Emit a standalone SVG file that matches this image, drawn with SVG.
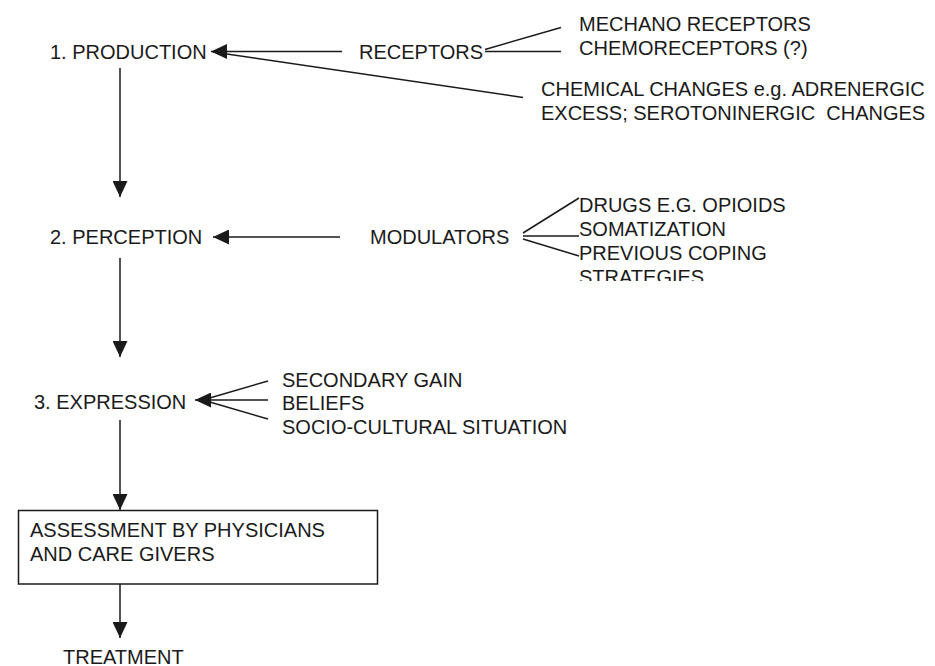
<svg xmlns="http://www.w3.org/2000/svg" width="935" height="666" viewBox="0 0 935 666">
<style>
text{font-family:"Liberation Sans",Arial,sans-serif;font-size:20px;fill:#1a1a1a;white-space:pre}
.c{stroke:#1a1a1a;stroke-width:1.5;fill:none}
.box{fill:#fff;stroke:#1a1a1a;stroke-width:1.5}
</style>
<defs>
<marker id="ah" markerUnits="userSpaceOnUse" markerWidth="17" markerHeight="15" refX="16" refY="7.5" orient="auto">
<path d="M0,0 L16,7.5 L0,15 Z" fill="#1a1a1a"/>
</marker>
<clipPath id="clipS"><rect x="0" y="0" width="935" height="281"/></clipPath>
</defs>
<rect width="935" height="666" fill="#fff"/>
<g id="connectors">
<line class="c" x1="342" y1="51.5" x2="211" y2="51.5" marker-end="url(#ah)"/>
<line class="c" x1="213" y1="52" x2="523" y2="97.5"/>
<line class="c" x1="485" y1="49.5" x2="561" y2="27.5"/>
<line class="c" x1="485" y1="51.5" x2="561" y2="51.5"/>
<line class="c" x1="120" y1="68" x2="120" y2="197" marker-end="url(#ah)"/>
<line class="c" x1="340" y1="237" x2="213" y2="237" marker-end="url(#ah)"/>
<line class="c" x1="523" y1="233" x2="579" y2="198"/>
<line class="c" x1="523" y1="236" x2="579" y2="236"/>
<line class="c" x1="523" y1="239" x2="579" y2="256"/>
<line class="c" x1="120" y1="258" x2="120" y2="357" marker-end="url(#ah)"/>
<line class="c" x1="211" y1="400" x2="195" y2="400" marker-end="url(#ah)"/>
<line class="c" x1="208" y1="398.5" x2="268" y2="381"/>
<line class="c" x1="208" y1="400" x2="268" y2="400"/>
<line class="c" x1="208" y1="401.5" x2="268" y2="419"/>
<line class="c" x1="120" y1="420" x2="120" y2="510" marker-end="url(#ah)"/>
<line class="c" x1="120" y1="584" x2="120" y2="638" marker-end="url(#ah)"/>
</g>
<g id="n-production"><text x="50" y="58.5">1. PRODUCTION</text></g>
<g id="n-receptors"><text x="359" y="58.5">RECEPTORS</text></g>
<g id="n-mechano"><text x="579" y="31">MECHANO RECEPTORS</text></g>
<g id="n-chemoreceptors"><text x="579" y="55">CHEMORECEPTORS (?)</text></g>
<g id="n-chemical"><text x="541" y="96">CHEMICAL CHANGES e.g. ADRENERGIC</text><text x="541" y="120">EXCESS; SEROTONINERGIC  CHANGES</text></g>
<g id="n-perception"><text x="50" y="244">2. PERCEPTION</text></g>
<g id="n-modulators"><text x="370" y="244">MODULATORS</text></g>
<g id="n-drugs"><text x="579" y="212">DRUGS E.G. OPIOIDS</text></g>
<g id="n-somatization"><text x="579" y="236">SOMATIZATION</text></g>
<g id="n-coping"><text x="579" y="260">PREVIOUS COPING</text><text x="579" y="284" clip-path="url(#clipS)">STRATEGIES</text></g>
<g id="n-expression"><text x="34" y="409">3. EXPRESSION</text></g>
<g id="n-secondary"><text x="282" y="387">SECONDARY GAIN</text></g>
<g id="n-beliefs"><text x="282" y="410">BELIEFS</text></g>
<g id="n-socio"><text x="282" y="434">SOCIO-CULTURAL SITUATION</text></g>
<g id="n-assessment"><rect class="box" x="18.5" y="510.5" width="359" height="73.5"/><text x="30" y="537">ASSESSMENT BY PHYSICIANS</text><text x="30" y="560.5">AND CARE GIVERS</text></g>
<g id="n-treatment"><text x="63" y="664">TREATMENT</text></g>
</svg>
